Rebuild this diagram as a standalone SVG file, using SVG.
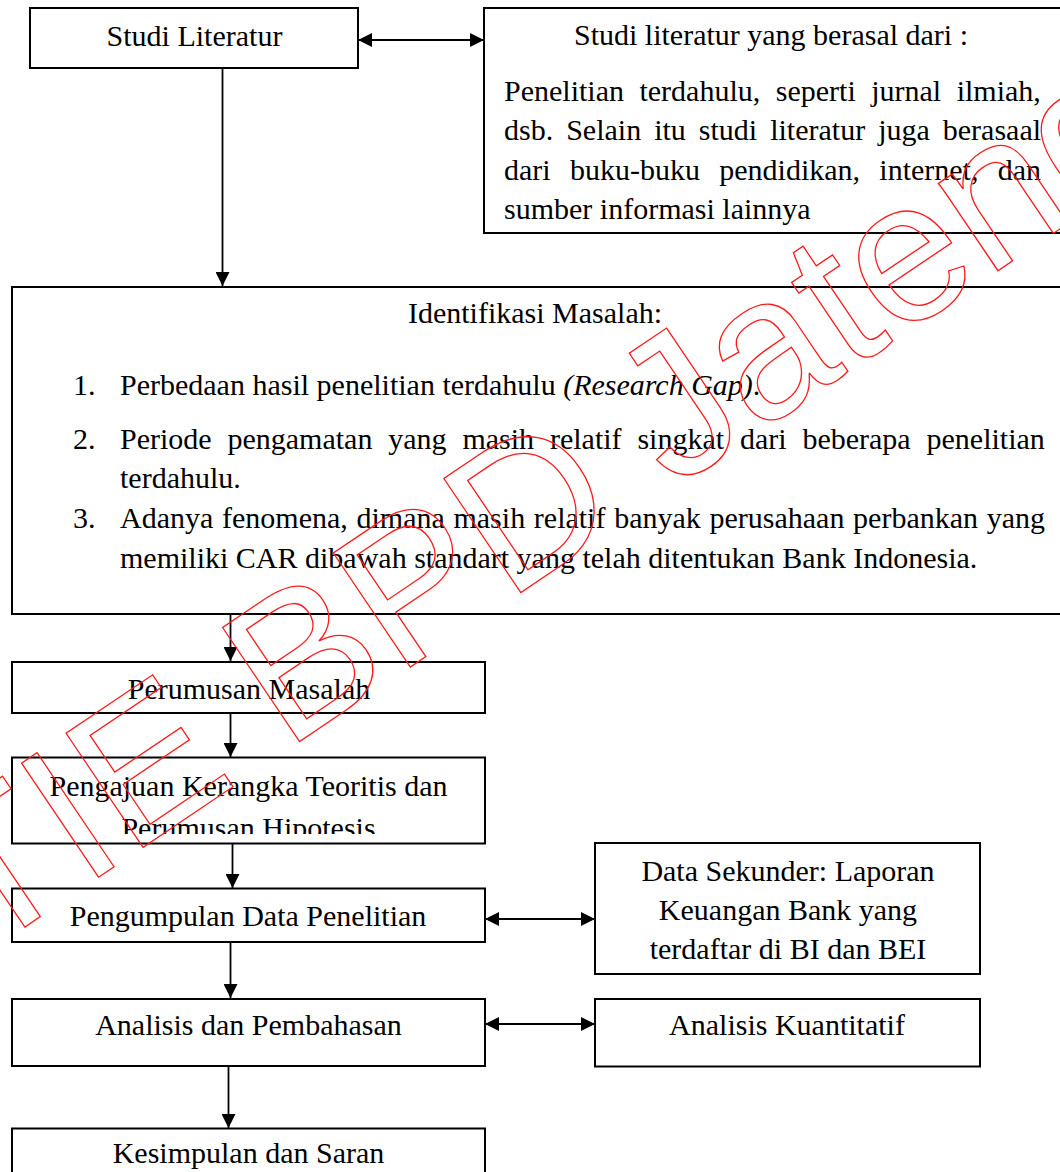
<svg xmlns="http://www.w3.org/2000/svg" width="1060" height="1172" viewBox="0 0 1060 1172">
<style>
.box{fill:#fff;stroke:#000;stroke-width:2}
.t{font-family:"Liberation Serif","Times New Roman",serif;font-size:30px;fill:#000}
.c{text-anchor:middle}
.it{font-style:italic}
.con{fill:none;stroke:#000;stroke-width:1.8}
.wm{font-family:"Liberation Sans",Arial,sans-serif;font-size:200px;fill:none;stroke:#ff1a1a;stroke-width:1.3}
</style>
<defs>
<marker id="ah" markerUnits="userSpaceOnUse" markerWidth="14" markerHeight="14" refX="14" refY="7" orient="auto-start-reverse">
<path d="M0,0 L14,7 L0,14 z" fill="#000"/>
</marker>
<clipPath id="clipPengajuan"><rect x="12" y="757" width="473" height="77"/></clipPath>
</defs>

<g id="node-studi-literatur">
<rect class="box" x="30" y="8" width="328" height="60"/>
<text class="t c" x="194.5" y="46">Studi Literatur</text>
</g>

<g id="node-sumber-literatur">
<rect class="box" x="484" y="8" width="590" height="225"/>
<text class="t c" x="771" y="45">Studi literatur yang berasal dari :</text>
<text class="t" x="504" y="101" word-spacing="8">Penelitian terdahulu, seperti jurnal ilmiah,</text>
<text class="t" x="504" y="140" word-spacing="5.5">dsb. Selain itu studi literatur juga berasaal</text>
<text class="t" x="504" y="179.5" word-spacing="11.8">dari buku-buku pendidikan, internet, dan</text>
<text class="t" x="504" y="219">sumber informasi lainnya</text>
</g>

<g id="node-identifikasi">
<rect class="box" x="12" y="287" width="1062" height="327"/>
<text class="t c" x="535" y="323">Identifikasi Masalah:</text>
<text class="t" x="73" y="395">1.</text>
<text class="t" x="120" y="395">Perbedaan hasil penelitian terdahulu <tspan class="it">(Research Gap)</tspan>.</text>
<text class="t" x="73" y="449">2.</text>
<text class="t" x="120" y="449" word-spacing="8.35">Periode pengamatan yang masih relatif singkat dari beberapa penelitian</text>
<text class="t" x="120" y="488">terdahulu.</text>
<text class="t" x="73" y="528">3.</text>
<text class="t" x="120" y="528" word-spacing="1.2">Adanya fenomena, dimana masih relatif banyak perusahaan perbankan yang</text>
<text class="t" x="120" y="568">memiliki CAR dibawah standart yang telah ditentukan Bank Indonesia.</text>
</g>

<g id="node-perumusan">
<rect class="box" x="12" y="662" width="473" height="51"/>
<text class="t c" x="249" y="698.5">Perumusan Masalah</text>
</g>

<g id="node-pengajuan">
<rect class="box" x="12" y="757.5" width="473" height="86"/>
<g clip-path="url(#clipPengajuan)">
<text class="t c" x="248.5" y="796">Pengajuan Kerangka Teoritis dan</text>
<text class="t c" x="248.5" y="838">Perumusan Hipotesis</text>
</g>
</g>

<g id="node-pengumpulan">
<rect class="box" x="12" y="888.5" width="473" height="53.5"/>
<text class="t c" x="248" y="926">Pengumpulan Data Penelitian</text>
</g>

<g id="node-data-sekunder">
<rect class="box" x="595" y="843" width="385" height="131"/>
<text class="t c" x="788" y="880.5">Data Sekunder: Laporan</text>
<text class="t c" x="788" y="919.5">Keuangan Bank yang</text>
<text class="t c" x="788" y="958.5">terdaftar di BI dan BEI</text>
</g>

<g id="node-analisis">
<rect class="box" x="12" y="999" width="473" height="67"/>
<text class="t c" x="248.5" y="1035">Analisis dan Pembahasan</text>
</g>

<g id="node-kuantitatif">
<rect class="box" x="595" y="999" width="385" height="67.5"/>
<text class="t c" x="787" y="1035">Analisis Kuantitatif</text>
</g>

<g id="node-kesimpulan">
<rect class="box" x="12" y="1128.5" width="473" height="60"/>
<text class="t c" x="248.5" y="1163">Kesimpulan dan Saran</text>
</g>

<g id="connectors">
<path class="con" d="M222.5,68 V286" marker-end="url(#ah)"/>
<path class="con" d="M358,40 H484" marker-start="url(#ah)" marker-end="url(#ah)"/>
<path class="con" d="M230.5,614 V661" marker-end="url(#ah)"/>
<path class="con" d="M230.5,713 V757" marker-end="url(#ah)"/>
<path class="con" d="M232.5,843.5 V888" marker-end="url(#ah)"/>
<path class="con" d="M230.5,942 V998" marker-end="url(#ah)"/>
<path class="con" d="M228.5,1066 V1128" marker-end="url(#ah)"/>
<path class="con" d="M485,919 H595" marker-start="url(#ah)" marker-end="url(#ah)"/>
<path class="con" d="M485,1024 H595" marker-start="url(#ah)" marker-end="url(#ah)"/>
</g>

<g id="watermark">
<text class="wm" transform="translate(-128.5,1030.5) rotate(-34)" x="0" y="0">STIE BPD Jateng</text>
</g>
</svg>
